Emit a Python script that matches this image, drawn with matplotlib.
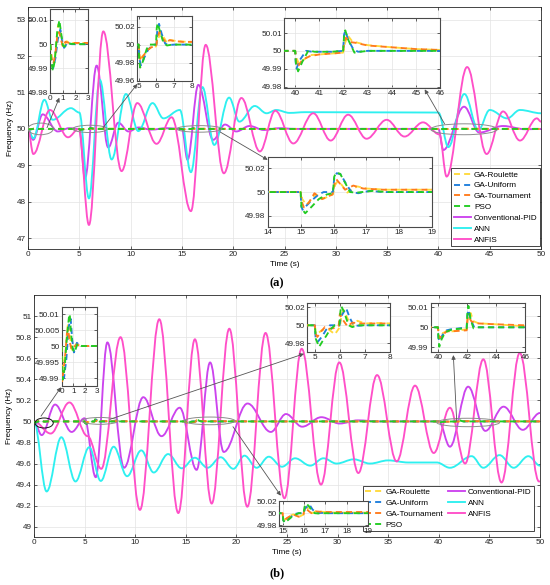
import matplotlib
matplotlib.use('Agg')
import matplotlib.pyplot as plt
from matplotlib.path import Path
from matplotlib.patches import PathPatch, Ellipse
from matplotlib.lines import Line2D
from matplotlib.ticker import FuncFormatter

plt.rcParams['font.family'] = ['Liberation Sans', 'DejaVu Sans']

# ---------------- data ----------------
LABELS = ['GA-Roulette', 'GA-Uniform', 'GA-Tournament', 'PSO',
          'Conventional-PID', 'ANN', 'ANFIS']

# panel (a): optimised controllers (time s, frequency Hz)
A_ROULETTE = [(0, 50.0), (0.08, 49.996), (0.2, 49.991), (0.35, 49.993), (0.5, 50.002), (0.62, 50.008),
              (0.75, 50.0075), (0.9, 50.001), (1.05, 49.9985), (1.3, 50.0012), (1.6, 50.0005), (3.0, 50.0005),
              (5.0, 50.0), (5.03, 49.993), (5.12, 49.985), (5.3, 49.989), (5.5, 49.994), (5.75, 49.9975),
              (5.98, 49.998), (6.08, 50.006), (6.25, 50.0127), (6.45, 50.007), (6.6, 50.002), (6.8, 50.005),
              (7.1, 50.004), (7.6, 50.0032), (8.0, 50.003), (11.0, 50.0005),
              (15.0, 50.0), (15.05, 49.994), (15.18, 49.989), (15.45, 49.998), (15.7, 49.9945), (15.98, 49.998),
              (16.05, 50.006), (16.12, 50.009), (16.25, 50.006), (16.42, 49.9995), (16.72, 50.0048), (17.0, 50.003),
              (17.6, 50.002), (19.0, 50.002), (22.0, 50.0),
              (40.0, 50.0), (40.05, 49.996), (40.15, 49.993), (40.35, 49.995), (40.6, 49.9976), (41.0, 49.998),
              (41.5, 49.9985), (41.98, 49.999), (42.05, 50.004), (42.18, 50.0085), (42.35, 50.0055), (42.6, 50.0045),
              (43.0, 50.0032), (44.0, 50.002), (45.0, 50.001), (46.0, 50.0005), (50.0, 50.0)]
A_UNIFORM = [(0, 50.0), (0.05, 49.995), (0.2, 49.990), (0.4, 49.994), (0.6, 50.002), (0.8, 50.006), (0.95, 50.001),
             (1.1, 49.9985), (1.35, 50.0005), (1.7, 50.0),
             (5.0, 50.0), (5.03, 49.985), (5.12, 49.977), (5.3, 49.985), (5.55, 49.995), (5.85, 50.0), (6.0, 50.0),
             (6.05, 50.015), (6.15, 50.023), (6.3, 50.012), (6.5, 50.001), (6.7, 49.9995), (7.0, 50.0),
             (15.0, 50.0), (15.02, 49.988), (15.06, 49.985), (15.3, 49.992), (15.55, 49.998), (15.7, 50.0),
             (15.98, 50.0), (16.03, 50.014), (16.1, 50.016), (16.22, 50.015), (16.4, 50.006), (16.55, 50.0),
             (16.75, 49.999), (17.1, 50.001), (17.5, 50.0),
             (40.0, 50.0), (40.02, 49.994), (40.05, 49.990), (40.2, 49.995), (40.45, 50.0), (40.7, 49.9995),
             (41.5, 49.9995), (41.98, 50.0), (42.02, 50.009), (42.07, 50.0112), (42.2, 50.006), (42.4, 50.001),
             (42.6, 49.9995), (43.0, 50.0), (50.0, 50.0)]
A_TOURNAMENT = [(0, 50.0), (0.1, 49.994), (0.25, 49.992), (0.4, 49.996), (0.55, 50.003), (0.7, 50.005),
                (0.85, 50.002), (1.0, 49.999), (1.2, 50.001), (1.5, 50.0005), (3.0, 50.0005),
                (5.0, 50.0), (5.03, 49.99), (5.1, 49.982), (5.25, 49.987), (5.45, 49.993), (5.7, 49.997),
                (5.98, 49.998), (6.05, 50.007), (6.18, 50.0145), (6.35, 50.007), (6.55, 50.002), (6.75, 50.005),
                (7.0, 50.004), (7.5, 50.003), (8.0, 50.003), (11.0, 50.0005),
                (15.0, 50.0), (15.03, 49.992), (15.1, 49.987), (15.25, 49.991), (15.42, 49.999), (15.65, 49.994),
                (15.97, 49.998), (16.02, 50.006), (16.08, 50.011), (16.2, 50.007), (16.35, 50.002), (16.6, 50.0055),
                (16.9, 50.003), (17.5, 50.002), (19.0, 50.002), (22.0, 50.0),
                (40.0, 50.0), (40.03, 49.995), (40.1, 49.991), (40.3, 49.995), (40.6, 49.997), (41.0, 49.998),
                (41.5, 49.9985), (41.98, 49.999), (42.03, 50.005), (42.1, 50.0074), (42.25, 50.005), (42.5, 50.0045),
                (43.0, 50.003), (44.0, 50.002), (45.0, 50.001), (46.0, 50.0005), (50.0, 50.0)]
A_PSO = [(0, 50.0), (0.05, 49.994), (0.2, 49.989), (0.35, 49.993), (0.55, 50.005), (0.72, 50.0099), (0.85, 50.005),
         (1.0, 49.9995), (1.15, 49.999), (1.4, 50.0003), (2.0, 50.0),
         (5.0, 50.0), (5.02, 49.985), (5.08, 49.9745), (5.25, 49.982), (5.45, 49.995), (5.6, 50.0), (5.98, 50.0),
         (6.02, 50.018), (6.07, 50.0237), (6.2, 50.015), (6.4, 50.002), (6.6, 49.999), (6.9, 50.0),
         (15.0, 50.0), (15.03, 49.986), (15.14, 49.982), (15.35, 49.988), (15.55, 49.994), (15.8, 49.998),
         (15.98, 49.999), (16.02, 50.013), (16.08, 50.0165), (16.2, 50.0155), (16.35, 50.008), (16.5, 50.0),
         (16.7, 49.9995), (17.2, 50.001), (17.6, 50.0),
         (40.0, 50.0), (40.03, 49.993), (40.12, 49.9885), (40.3, 49.994), (40.55, 50.0003), (40.8, 49.9995),
         (41.5, 49.9995), (41.98, 50.0), (42.02, 50.008), (42.07, 50.0115), (42.2, 50.006), (42.45, 49.999),
         (42.7, 49.9995), (43.0, 50.0), (50.0, 50.0)]
# panel (a): other controllers, turning points of each curve
A_PID = [(0, 50.0), (0.5, 49.7), (1.43, 50.40), (2.9, 49.93), (4.0, 50.02), (5.0, 50.0), (5.55, 48.64),
         (6.69, 51.74), (7.82, 49.49), (8.8, 50.17), (9.8, 49.93), (10.8, 50.04), (12.0, 49.98), (13.5, 50.02),
         (15.0, 50.0), (15.55, 49.15), (16.6, 51.21), (18.05, 49.7), (19.2, 50.12), (20.3, 49.93), (21.6, 50.08),
         (23.0, 49.97), (24.5, 50.02), (26.0, 50.0), (40.0, 50.0), (40.48, 49.42), (42.5, 50.61), (43.99, 49.9),
         (46.3, 50.08), (48.5, 49.99), (50.0, 50.0)]
A_ANN = [(0, 50.0), (0.52, 49.74), (1.6, 50.8), (2.4, 50.25), (4.19, 50.57), (5.0, 50.45), (5.94, 48.09),
         (7.0, 51.35), (8.15, 49.16), (9.55, 50.96), (10.75, 49.94), (12.14, 50.71), (13.2, 50.29), (14.8, 50.52),
         (15.88, 48.81), (17.0, 51.15), (18.15, 49.56), (19.6, 50.86), (20.6, 50.2), (22.1, 50.63), (23.25, 50.43),
         (24.2, 50.52), (25.5, 50.44), (27.0, 50.46), (40.0, 50.45), (40.97, 49.5), (42.53, 50.96), (43.9, 49.97),
         (45.0, 50.52), (46.7, 50.29), (47.95, 50.52), (50.0, 50.43)]
A_ANFIS = [(0, 50.0), (0.52, 49.31), (2.14, 50.52), (3.9, 49.77), (4.95, 50.0), (5.94, 47.36), (7.34, 52.68),
           (9.12, 48.84), (10.65, 50.71), (12.53, 49.59), (14.0, 50.32), (15.88, 47.74), (17.32, 52.31),
           (19.09, 48.78), (20.8, 50.85), (22.6, 49.38), (24.1, 50.5), (25.86, 49.6), (27.8, 50.43), (29.5, 49.68),
           (31.2, 50.39), (33.0, 49.73), (34.96, 50.25), (36.7, 49.79), (38.5, 50.18), (40.1, 49.85), (40.8, 48.69),
           (42.8, 51.7), (44.7, 49.31), (46.3, 50.48), (47.95, 49.68), (49.6, 50.29), (50.0, 50.2)]

# panel (b): optimised controllers
B_ROULETTE = [(0, 50.0), (0.06, 49.993), (0.2, 49.995), (0.35, 49.999), (0.5, 50.006), (0.57, 50.0073),
              (0.7, 50.003), (0.85, 49.999), (1.0, 49.9985), (1.2, 50.0005), (1.5, 50.0),
              (5.0, 50.0), (5.03, 49.993), (5.08, 49.99), (5.3, 49.995), (5.55, 49.9955), (5.8, 49.99),
              (6.0, 49.998), (6.07, 50.012), (6.15, 50.017), (6.3, 50.008), (6.45, 49.9985), (6.7, 50.005),
              (7.0, 50.002), (7.5, 50.0025), (8.0, 50.002), (11.0, 50.0),
              (15.0, 50.0), (15.03, 49.992), (15.08, 49.988), (15.3, 49.995), (15.5, 49.998), (15.75, 49.9935),
              (15.98, 49.998), (16.03, 50.007), (16.1, 50.011), (16.25, 50.005), (16.4, 50.0), (16.6, 50.004),
              (16.9, 50.002), (17.5, 50.001), (19.0, 50.001), (22.0, 50.0),
              (40.0, 50.0), (40.05, 49.998), (40.3, 49.997), (40.6, 49.998), (41.0, 49.998), (41.98, 49.999),
              (42.05, 50.004), (42.25, 50.0072), (42.45, 50.003), (42.8, 50.002), (44.0, 50.0015), (46.0, 50.0005),
              (50.0, 50.0)]
B_UNIFORM = [(0, 50.0), (0.05, 49.991), (0.2, 49.99), (0.4, 49.996), (0.6, 50.006), (0.77, 50.0085), (0.9, 50.002),
             (1.05, 49.998), (1.3, 50.001), (1.6, 50.0),
             (5.0, 50.0), (5.03, 49.987), (5.13, 49.982), (5.3, 49.988), (5.45, 49.995), (5.6, 50.0), (5.98, 50.0),
             (6.05, 50.01), (6.25, 50.019), (6.4, 50.008), (6.55, 50.0), (6.75, 49.9995), (7.0, 50.0),
             (15.0, 50.0), (15.03, 49.988), (15.1, 49.985), (15.35, 49.993), (15.6, 49.999), (15.75, 50.0),
             (15.98, 50.0), (16.05, 50.008), (16.25, 50.0145), (16.4, 50.006), (16.6, 50.0), (16.8, 50.0005),
             (17.2, 50.0),
             (40.0, 50.0), (40.03, 49.995), (40.1, 49.993), (40.3, 49.996), (40.6, 49.9985), (40.9, 49.999),
             (41.5, 49.9995), (41.98, 50.0), (42.03, 50.006), (42.1, 50.0087), (42.25, 50.004), (42.5, 50.0),
             (50.0, 50.0)]
B_TOURNAMENT = [(0, 50.0), (0.04, 49.989), (0.15, 49.992), (0.3, 49.997), (0.45, 50.004), (0.55, 50.0052),
                (0.7, 50.001), (0.85, 49.999), (1.0, 49.9995), (1.3, 50.0005), (1.6, 50.0),
                (5.0, 50.0), (5.03, 49.991), (5.1, 49.987), (5.25, 49.993), (5.4, 49.998), (5.55, 49.996),
                (5.8, 49.997), (5.95, 49.999), (6.0, 50.0128), (6.12, 50.006), (6.3, 49.999), (6.5, 50.003),
                (6.8, 50.002), (7.2, 50.002), (8.0, 50.002), (11.0, 50.0),
                (15.0, 50.0), (15.02, 49.992), (15.07, 49.988), (15.25, 49.993), (15.5, 49.998), (15.75, 49.994),
                (15.97, 49.998), (16.02, 50.006), (16.06, 50.0095), (16.2, 50.004), (16.35, 50.0), (16.55, 50.003),
                (16.9, 50.002), (17.5, 50.002), (19.0, 50.002), (22.0, 50.0),
                (40.0, 50.0), (40.03, 49.997), (40.1, 49.9945), (40.3, 49.996), (40.6, 49.998), (41.0, 49.998),
                (41.98, 49.9985), (42.03, 50.004), (42.1, 50.0057), (42.3, 50.003), (42.6, 50.002), (44.0, 50.0015),
                (46.0, 50.001), (50.0, 50.0)]
B_PSO = [(0, 50.0), (0.03, 49.99), (0.1, 49.9895), (0.25, 49.993), (0.45, 50.003), (0.62, 50.009), (0.69, 50.010),
         (0.8, 50.004), (0.95, 49.999), (1.1, 49.998), (1.35, 50.0007), (1.7, 50.0),
         (5.0, 50.0), (5.04, 49.985), (5.17, 49.976), (5.3, 49.982), (5.45, 49.988), (5.6, 49.995), (5.8, 50.0),
         (5.98, 50.0), (6.02, 50.015), (6.05, 50.0214), (6.15, 50.016), (6.35, 50.0), (6.5, 49.998), (6.7, 50.0),
         (15.0, 50.0), (15.03, 49.988), (15.1, 49.984), (15.3, 49.99), (15.5, 49.996), (15.75, 50.0), (15.98, 50.0),
         (16.02, 50.01), (16.07, 50.016), (16.2, 50.013), (16.35, 50.005), (16.5, 50.0), (16.7, 49.9995),
         (17.0, 50.0),
         (40.0, 50.0), (40.03, 49.995), (40.09, 49.9903), (40.25, 49.994), (40.5, 49.9975), (41.0, 49.999),
         (41.98, 49.9995), (42.03, 50.007), (42.1, 50.0107), (42.25, 50.004), (42.45, 49.9995), (42.7, 50.0),
         (50.0, 50.0)]
# panel (b): other controllers, turning points
B_PID = [(0, 50.0), (0.76, 49.87), (2.08, 50.16), (3.72, 49.9), (5.0, 50.03), (6.1, 49.47), (7.25, 50.75),
         (8.9, 49.56), (10.8, 50.23), (12.6, 49.86), (14.4, 50.13), (16.07, 49.54), (17.4, 50.56), (18.75, 49.71),
         (21.1, 50.17), (23.4, 49.9), (24.9, 50.07), (26.5, 49.95), (28.4, 50.04), (30.2, 49.98), (32.0, 50.01),
         (34.0, 50.0), (40.0, 50.0), (41.1, 49.76), (42.9, 50.33), (44.6, 49.91), (46.4, 50.14), (48.3, 49.92),
         (50.0, 50.08)]
B_ANN = [(0, 50.0), (1.25, 49.335), (2.7, 49.85), (4.1, 49.43), (5.46, 49.755), (6.6, 49.435), (7.87, 49.76),
         (9.2, 49.48), (10.6, 49.725), (11.83, 49.515), (13.25, 49.69), (14.6, 49.555), (15.9, 49.655),
         (17.15, 49.56), (18.45, 49.66), (19.7, 49.55), (20.8, 49.675), (22.0, 49.56), (23.2, 49.665),
         (24.5, 49.57), (25.8, 49.65), (27.3, 49.58), (28.6, 49.65), (29.9, 49.6), (31.6, 49.64), (33.2, 49.6),
         (35.0, 49.63), (37.0, 49.61), (39.8, 49.61), (41.1, 49.56), (43.25, 49.67), (44.4, 49.56), (46.0, 49.68),
         (47.4, 49.56), (48.85, 49.67), (50.0, 49.58)]
B_ANFIS = [(0, 50.0), (1.65, 49.885), (3.5, 50.18), (5.3, 49.86), (6.65, 49.55), (8.55, 50.80), (10.47, 49.16),
           (12.38, 50.97), (14.26, 49.13), (15.9, 50.78), (17.56, 49.22), (19.3, 50.88), (21.08, 49.19),
           (22.88, 50.84), (24.75, 49.27), (26.45, 50.69), (28.36, 49.4), (30.17, 50.56), (32.05, 49.51),
           (33.9, 50.44), (35.84, 49.62), (37.65, 50.34), (39.5, 49.7), (41.1, 50.13), (42.6, 49.6), (44.4, 50.59),
           (46.2, 49.42), (48.0, 50.65), (49.9, 49.43), (50.0, 49.43)]

# ---------------- styles / layout ----------------
COLORS = ['#ffd93b', '#1f7fdc', '#ff7b1c', '#22cc22', '#cc44ee', '#2ef0f0', '#ff4fc8']
DASH = (3.2, 2.2)
LW = 1.35
FS = 5.9
W, H = 550, 585

def fig_rect(l, t, r, b):
    return [l / W, 1 - b / H, (r - l) / W, (b - t) / H]

def fmt(v, pos=None):
    s = f"{v:.4f}".rstrip('0').rstrip('.')
    return s

def smooth_patch(ax, pts, color, lw=LW, k=0.3642):
    verts = [pts[0]]
    codes = [Path.MOVETO]
    for (t0, f0), (t1, f1) in zip(pts[:-1], pts[1:]):
        d = t1 - t0
        verts += [(t0 + k * d, f0), (t1 - k * d, f1), (t1, f1)]
        codes += [Path.CURVE4] * 3
    p = PathPatch(Path(verts, codes), fill=False, edgecolor=color, lw=lw,
                  transform=ax.transData, zorder=1.5, capstyle='round', joinstyle='round')
    ax.add_patch(p)

def style_axes(ax, fs=FS, spine='#262626', slw=0.6):
    ax.tick_params(direction='in', top=True, right=True, length=2.5, width=0.5,
                   labelsize=fs, pad=1.5, colors='#262626')
    ax.grid(True, color='#e3e3e3', lw=0.5)
    ax.set_axisbelow(True)
    for s in ax.spines.values():
        s.set_color(spine)
        s.set_linewidth(slw)
    ax.xaxis.set_major_formatter(FuncFormatter(fmt))
    ax.yaxis.set_major_formatter(FuncFormatter(fmt))

def plot_ga(ax, series, lw=LW):
    for pts, c in zip(series, COLORS[:4]):
        ax.plot([p[0] for p in pts], [p[1] for p in pts], color=c, lw=lw,
                dashes=DASH, zorder=3)

fig = plt.figure(figsize=(W / 100, H / 100), dpi=100)
fig.patch.set_facecolor('white')

panels = [
    dict(rect=fig_rect(28, 7, 541, 249), ylim=(46.7, 53.35), yticks=[47, 48, 49, 50, 51, 52, 53],
         ga=[A_ROULETTE, A_UNIFORM, A_TOURNAMENT, A_PSO], other=[A_PID, A_ANN, A_ANFIS],
         label='(a)', label_y=283,
         insets=[dict(rect=fig_rect(50.3, 9, 88, 92.7), xlim=(0, 3), xt=[0, 1, 2, 3],
                      ylim=(49.98, 50.0145), yt=[49.98, 49.99, 50, 50.01]),
                 dict(rect=fig_rect(137.3, 15.7, 191.7, 80.7), xlim=(4.92, 8), xt=[5, 6, 7, 8],
                      ylim=(49.96, 50.032), yt=[49.96, 49.98, 50, 50.02]),
                 dict(rect=fig_rect(284.3, 17.7, 440.3, 88.3), xlim=(39.55, 46), xt=[40, 41, 42, 43, 44, 45, 46],
                      ylim=(49.979, 50.0186), yt=[49.98, 49.99, 50, 50.01]),
                 dict(rect=fig_rect(267.7, 156.7, 432.3, 226.7), xlim=(14, 19), xt=[14, 15, 16, 17, 18, 19],
                      ylim=(49.9706, 50.030), yt=[49.98, 50, 50.02])],
         ellipses=[((1.22, 50.0), 2.47, 0.32, '#8c8c8c'), ((6.05, 50.0), 3.37, 0.2, '#8c8c8c'),
                   ((16.7, 50.0), 4.4, 0.18, '#8c8c8c'), ((42.5, 49.99), 6.5, 0.3, '#8c8c8c')],
         arrows=[((1.85, 50.03), 0, (0.24, -0.06)), ((7.31, 50.03), 1, (0.0, -0.05)),
                 ((18.7, 49.92), 3, (0.0, 0.955)), ((40.6, 50.14), 2, (0.9, -0.015))],
         legend=dict(ncol=1, loc='lower right', bbox=(0.998, 0.012), colsp=1.0)),
    dict(rect=fig_rect(34, 295, 540, 537.3), ylim=(48.9, 51.2),
         yticks=[49, 49.2, 49.4, 49.6, 49.8, 50, 50.2, 50.4, 50.6, 50.8, 51],
         ga=[B_ROULETTE, B_UNIFORM, B_TOURNAMENT, B_PSO], other=[B_PID, B_ANN, B_ANFIS],
         label='(b)', label_y=573,
         insets=[dict(rect=fig_rect(61.7, 307.3, 96.7, 385.7), xlim=(0, 3), xt=[0, 1, 2, 3],
                      ylim=(49.9876, 50.0121), yt=[49.99, 49.995, 50, 50.005, 50.01]),
                 dict(rect=fig_rect(307.3, 302.7, 390, 352.3), xlim=(4.7, 8), xt=[5, 6, 7, 8],
                      ylim=(49.97, 50.0251), yt=[49.98, 50, 50.02]),
                 dict(rect=fig_rect(430.7, 303.3, 525, 351.7), xlim=(39.5, 46), xt=[40, 42, 44, 46],
                      ylim=(49.9878, 50.012), yt=[49.99, 50, 50.01]),
                 dict(rect=fig_rect(279, 500.7, 368.3, 525.7), xlim=(14.83, 19), xt=[15, 16, 17, 18, 19],
                      ylim=(49.979, 50.021), yt=[49.98, 50, 50.02])],
         ellipses=[((1.0, 49.985), 1.8, 0.095, '#111111'), ((6.52, 50.005), 3.6, 0.065, '#8c8c8c'),
                   ((17.36, 50.005), 5.0, 0.073, '#8c8c8c'), ((42.9, 49.99), 6.2, 0.08, '#8c8c8c')],
         arrows=[((0.69, 50.05), 0, (-0.02, -0.02)), ((7.5, 50.02), 1, (-0.04, -0.03)),
                 ((19.66, 49.95), 3, (0.02, 1.2)), ((41.77, 50.0), 2, (0.24, -0.07))],
         legend=dict(ncol=2, loc='lower right', bbox=(0.988, 0.026), colsp=0.6)),
]

for P in panels:
    ax = fig.add_axes(P['rect'])
    style_axes(ax)
    ax.set_xlim(0, 50)
    ax.set_ylim(*P['ylim'])
    ax.set_xticks(range(0, 51, 5))
    ax.set_yticks(P['yticks'])
    ax.set_xlabel('Time (s)', fontsize=FS, labelpad=2)
    ax.set_ylabel('Frequency (Hz)', fontsize=FS, labelpad=2)
    for pts, c in zip(P['other'], COLORS[4:]):
        smooth_patch(ax, pts, c)
    plot_ga(ax, P['ga'])
    for (cxy, w, h, ec) in P['ellipses']:
        ax.add_patch(Ellipse(cxy, w, h, fill=False, ec=ec, lw=0.7, zorder=5))
    handles = []
    for i, (lab, c) in enumerate(zip(LABELS, COLORS)):
        if i < 4:
            handles.append(Line2D([], [], color=c, lw=LW, dashes=DASH, label=lab))
        else:
            handles.append(Line2D([], [], color=c, lw=LW, label=lab))
    L = P['legend']
    leg = ax.legend(handles=handles, ncol=L['ncol'], loc=L['loc'], bbox_to_anchor=L['bbox'],
                    fontsize=FS, frameon=True, fancybox=False, framealpha=1, edgecolor='#262626',
                    borderpad=0.3, labelspacing=0.38, handlelength=2.1, handletextpad=0.35,
                    columnspacing=L['colsp'], borderaxespad=0.0)
    leg.get_frame().set_linewidth(0.6)
    leg.set_zorder(10)

    insets = []
    for I in P['insets']:
        ia = fig.add_axes(I['rect'])
        style_axes(ia, spine='#4a4a4a', slw=0.8)
        ia.set_facecolor('white')
        plot_ga(ia, P['ga'])
        ia.set_xlim(*I['xlim'])
        ia.set_ylim(*I['ylim'])
        ia.set_xticks(I['xt'])
        ia.set_yticks(I['yt'])
        insets.append(ia)

    for (tail, idx, head) in P['arrows']:
        ax.annotate('', xy=head, xycoords=insets[idx].transAxes,
                    xytext=tail, textcoords='data',
                    arrowprops=dict(arrowstyle='-|>', color='#555555', lw=0.6,
                                    mutation_scale=6, shrinkA=0, shrinkB=0),
                    zorder=6)

    fig.text(277 / W, 1 - P['label_y'] / H, P['label'], ha='center', va='center',
             family=['Liberation Serif', 'DejaVu Serif'], weight='bold', fontsize=9)

fig.savefig('out.png', dpi=100, facecolor='white')
